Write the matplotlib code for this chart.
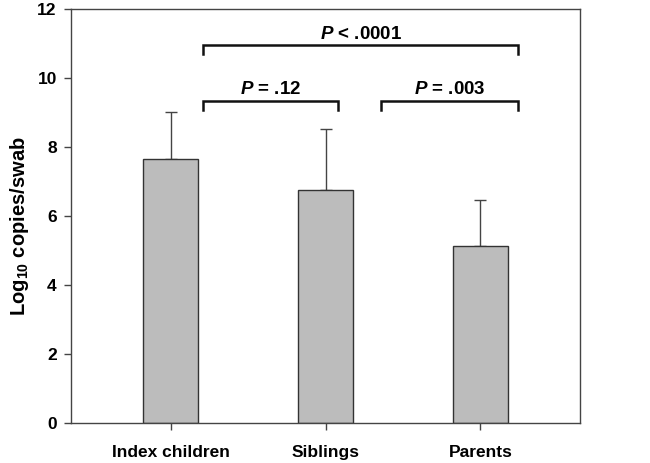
import matplotlib
matplotlib.use("Agg")
import matplotlib.pyplot as plt

categories = ["Index children", "Siblings", "Parents"]
means = [7.67, 6.76, 5.14]
upper = [9.03, 8.53, 6.48]
yticks = [0, 2, 4, 6, 8, 10, 12]

# comparisons: (x_left, x_right, y, label)
comp_left = [0.21, 0.21, 1.355]
comp_right = [2.245, 1.083, 2.245]
comp_y = [10.96, 9.35, 9.35]
comp_labels = ["$P$ < .0001", "$P$ = .12", "$P$ = .003"]

plt.rcParams['font.family'] = ['Liberation Sans', 'DejaVu Sans']
plt.rcParams['font.weight'] = 'bold'
plt.rcParams['mathtext.fontset'] = 'custom'
plt.rcParams['mathtext.rm'] = 'Liberation Sans:bold'
plt.rcParams['mathtext.it'] = 'Liberation Sans:bold:italic'
plt.rcParams['mathtext.bf'] = 'Liberation Sans:bold'

fig = plt.figure(figsize=(6.5, 4.63), dpi=100)
ax = fig.add_axes([0.1088, 0.0864, 0.7835, 0.8931])

x = list(range(len(categories)))
err = [u - m for u, m in zip(upper, means)]
ax.bar(x, means, width=0.35, color='#bcbcbc', edgecolor='#333333', linewidth=1.0, zorder=2)
ax.errorbar(x, means, yerr=[[0]*len(x), err], fmt='none', ecolor='#444444',
            elinewidth=1.0, capsize=4.3, capthick=1.0, zorder=1)

ax.set_xlim(-0.644, 2.642)
ax.set_ylim(0, 12)
ax.set_yticks(yticks)
ax.set_yticklabels([str(t) for t in yticks], fontsize=12.5, fontweight='bold')
ax.set_xticks(x)
ax.set_xticklabels(categories, fontsize=12.5, fontweight='bold')
ax.tick_params(axis='both', direction='out', length=5, width=1.0, color='#444444')
ax.tick_params(axis='x', pad=11)
ax.tick_params(axis='y', pad=5)
for s in ax.spines.values():
    s.set_color('#444444')
    s.set_linewidth(1.0)

ax.set_ylabel(r"Log$_{\rm 10}$ copies/swab", fontsize=14.5, fontweight='bold')
ax.yaxis.set_label_coords(-0.078, 0.475)

drop = 0.26
for xl, xr, yy, lab in zip(comp_left, comp_right, comp_y, comp_labels):
    ax.plot([xl, xl, xr, xr], [yy - drop, yy, yy, yy - drop], color='#111111',
            linewidth=1.8, solid_joinstyle='miter', zorder=3, clip_on=False)
    ax.text((xl + xr) / 2, yy + 0.19, lab, ha='center', va='baseline', fontsize=13.5,
            fontweight='bold')

fig.savefig("out.png", dpi=100)
